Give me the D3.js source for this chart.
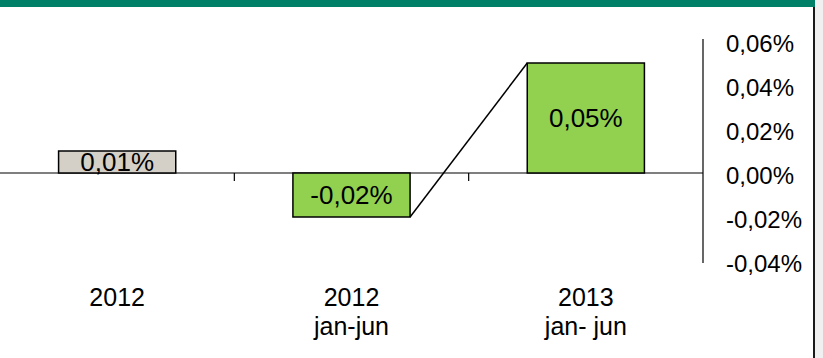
<!DOCTYPE html>
<html>
<head>
<meta charset="utf-8">
<script src="https://cdn.jsdelivr.net/npm/d3@7"></script>
<style>
  html, body { margin: 0; padding: 0; background: #ffffff; }
  svg { display: block; }
  text { font-family: "Liberation Sans", Arial, sans-serif; fill: #000; }
</style>
</head>
<body>
<svg id="chart" width="823" height="358"></svg>
<script>
// Categories (two-line labels) and their values in percent
const categories = ["2012", "2012 jan-jun", "2013 jan- jun"];
const labelLine1 = ["2012", "2012", "2013"];
const labelLine2 = ["", "jan-jun", "jan- jun"];
const values = [0.01, -0.02, 0.05];
const barColors = ["#d4d0c8", "#92d050", "#92d050"];
const yTicks = [0.06, 0.04, 0.02, 0.00, -0.02, -0.04];

const fmt = v => d3.format(".2f")(v).replace(".", ",").replace("−", "-") + "%";

const svg = d3.select("#chart");
const W = 823, H = 358;
const plotLeft = 0, plotRight = 703;

// Frame: green top band and dark right edge
svg.append("rect").attr("x", 815).attr("y", 0).attr("width", 8).attr("height", H).attr("fill", "#f0f0f0");
svg.append("rect").attr("x", 0).attr("y", 0).attr("width", 815).attr("height", 7).attr("fill", "#008066");
svg.append("rect").attr("x", 813).attr("y", 7).attr("width", 2).attr("height", H - 7).attr("fill", "#1a1a1a");

const x = d3.scaleBand()
  .domain(categories)
  .range([plotLeft, plotRight])
  .paddingInner(0.5)
  .paddingOuter(0.25);

const y = d3.scaleLinear()
  .domain([-0.04, 0.06])
  .range([261, 41]);

// Zero baseline and category separators
svg.append("line")
  .attr("x1", plotLeft).attr("x2", plotRight)
  .attr("y1", y(0)).attr("y2", y(0))
  .attr("stroke", "#000").attr("stroke-width", 1.2);

const step = x.step();
categories.slice(1).forEach(c => {
  const sx = x(c) - step * 0.25;
  svg.append("line")
    .attr("x1", sx).attr("x2", sx)
    .attr("y1", y(0)).attr("y2", y(0) + 8)
    .attr("stroke", "#000").attr("stroke-width", 1.2);
});

// Right-hand value axis
const yAxis = d3.axisRight(y)
  .tickValues(yTicks)
  .tickSize(0)
  .tickPadding(23)
  .tickFormat(fmt);
const gAxis = svg.append("g")
  .attr("transform", `translate(${plotRight},0)`)
  .call(yAxis);
gAxis.select(".domain")
  .attr("d", `M0,${y(0.06) - 2}V${y(-0.04) + 2}`)
  .attr("stroke", "#000").attr("stroke-width", 1.2);
gAxis.selectAll(".tick text")
  .attr("font-family", "'Liberation Sans', Arial, sans-serif")
  .attr("font-size", 24)
  .attr("dy", "0.45em")
  .attr("fill", "#000");

// Bars
svg.selectAll(".bar")
  .data(values)
  .join("rect")
  .attr("class", "bar")
  .attr("x", (d, i) => x(categories[i]))
  .attr("width", x.bandwidth())
  .attr("y", d => y(Math.max(0, d)))
  .attr("height", d => Math.abs(y(d) - y(0)))
  .attr("fill", (d, i) => barColors[i])
  .attr("stroke", "#000")
  .attr("stroke-width", 1.5);

// Connector from the bottom of the second bar to the top of the third
svg.append("line")
  .attr("x1", x(categories[1]) + x.bandwidth())
  .attr("y1", y(values[1]))
  .attr("x2", x(categories[2]))
  .attr("y2", y(values[2]))
  .attr("stroke", "#000").attr("stroke-width", 1.5);

// Value labels inside bars
svg.selectAll(".val")
  .data(values)
  .join("text")
  .attr("class", "val")
  .attr("x", (d, i) => x(categories[i]) + x.bandwidth() / 2)
  .attr("y", d => (y(d) + y(0)) / 2)
  .attr("dy", "0.36em")
  .attr("text-anchor", "middle")
  .attr("font-size", 26)
  .text(d => fmt(d));

// Category labels
const cx = (i) => x(categories[i]) + x.bandwidth() / 2;
svg.selectAll(".cat1")
  .data(labelLine1)
  .join("text")
  .attr("class", "cat1")
  .attr("x", (d, i) => cx(i))
  .attr("y", 306)
  .attr("text-anchor", "middle")
  .attr("font-size", 25)
  .text(d => d);
svg.selectAll(".cat2")
  .data(labelLine2)
  .join("text")
  .attr("class", "cat2")
  .attr("x", (d, i) => cx(i))
  .attr("y", 335)
  .attr("text-anchor", "middle")
  .attr("font-size", 25)
  .text(d => d);
</script>
</body>
</html>
